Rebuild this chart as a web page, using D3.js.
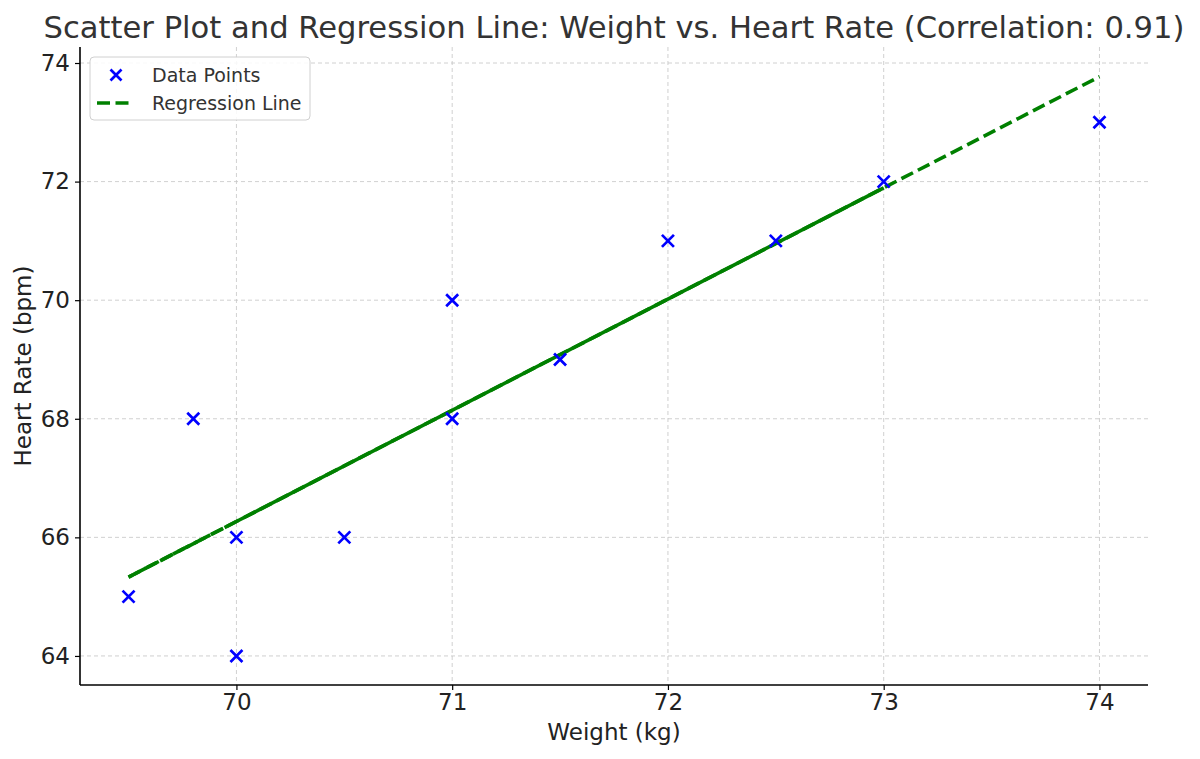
<!DOCTYPE html>
<html>
<head>
<meta charset="utf-8">
<script src="https://cdn.jsdelivr.net/npm/d3@7"></script>
<style>
  html, body { margin: 0; padding: 0; background: #fff; }
  svg { display: block; font-family: "DejaVu Sans", sans-serif; }
</style>
</head>
<body>
<svg id="chart" width="1200" height="759"></svg>
<script>
const weights = [69.5, 69.8, 70, 70, 70.5, 71, 71, 71.5, 72, 72.5, 73, 74];
const heartRates = [65, 68, 66, 64, 66, 68, 70, 69, 71, 71, 72, 73];
const regX = [69.5, 74];
const regY = [65.33, 73.77];
const regSolidX = [70, 73];
const xTicks = [70, 71, 72, 73, 74];
const yTicks = [64, 66, 68, 70, 72, 74];
const titleText = "Scatter Plot and Regression Line: Weight vs. Heart Rate (Correlation: 0.91)";
const xLabel = "Weight (kg)";
const yLabel = "Heart Rate (bpm)";
const legendLabels = ["Data Points", "Regression Line"];

const svg = d3.select("#chart");
const L = 80, R = 1148, T = 47, B = 685;
const x = d3.scaleLinear().domain([69.275, 74.225]).range([L, R]);
const y = d3.scaleLinear().domain([63.51, 74.27]).range([B, T]);
const regAt = v => regY[0] + (v - regX[0]) * (regY[1] - regY[0]) / (regX[1] - regX[0]);

// grid
const grid = svg.append("g");
grid.selectAll("line.gx").data(xTicks).join("line")
  .attr("x1", d => x(d)).attr("x2", d => x(d)).attr("y1", T).attr("y2", B)
  .attr("stroke", "#c4c4c4").attr("stroke-width", 0.8).attr("stroke-dasharray", "4,3");
grid.selectAll("line.gy").data(yTicks).join("line")
  .attr("x1", L).attr("x2", R).attr("y1", d => y(d)).attr("y2", d => y(d))
  .attr("stroke", "#c4c4c4").attr("stroke-width", 0.8).attr("stroke-dasharray", "4,3");

// axes
const xAxis = svg.append("g").attr("transform", `translate(0,${B})`)
  .call(d3.axisBottom(x).tickValues(xTicks).tickFormat(d3.format("d")).tickSize(5).tickPadding(4).tickSizeOuter(0));
const yAxis = svg.append("g").attr("transform", `translate(${L},0)`)
  .call(d3.axisLeft(y).tickValues(yTicks).tickFormat(d3.format("d")).tickSize(5).tickPadding(5).tickSizeOuter(0));
[xAxis, yAxis].forEach(a => {
  a.select(".domain").attr("stroke", "#000").attr("stroke-width", 1.6);
  a.selectAll(".tick line").attr("stroke", "#000").attr("stroke-width", 1.2);
  a.selectAll(".tick text").attr("font-size", 23).attr("fill", "#222").attr("font-family", "DejaVu Sans");
});
xAxis.select(".domain").attr("d", `M${L},0H${R}`);
yAxis.select(".domain").attr("d", `M0,${B}V${T}`);

// regression line
const line = d3.line().x(d => x(d[0])).y(d => y(d[1]));
const regPts = regX.map(v => [v, regAt(v)]);
svg.append("path").attr("d", line(regPts)).attr("fill", "none")
  .attr("stroke", "#008000").attr("stroke-width", 3.6).attr("stroke-dasharray", "13,5.5");
svg.append("path").attr("d", line([[regX[0], regAt(regX[0])], [regSolidX[0], regAt(regSolidX[0])]])).attr("fill", "none")
  .attr("stroke", "#008000").attr("stroke-width", 3.6).attr("stroke-dasharray", "13,1.5").attr("stroke-dashoffset", 8);
svg.append("path").attr("d", line(regSolidX.map(v => [v, regAt(v)]))).attr("fill", "none")
  .attr("stroke", "#008000").attr("stroke-width", 3.6);

// scatter x markers
const s = 6;
svg.append("g").selectAll("path").data(weights.map((w, i) => [w, heartRates[i]])).join("path")
  .attr("d", d => { const cx = x(d[0]), cy = y(d[1]);
    return `M${cx - s},${cy - s}L${cx + s},${cy + s}M${cx - s},${cy + s}L${cx + s},${cy - s}`; })
  .attr("stroke", "#0000ff").attr("stroke-width", 2.7).attr("fill", "none");

// title and labels
svg.append("text").attr("x", (L + R) / 2).attr("y", 38).attr("text-anchor", "middle")
  .attr("font-size", 30.6).attr("fill", "#333").text(titleText);
svg.append("text").attr("x", (L + R) / 2).attr("y", 740).attr("text-anchor", "middle")
  .attr("font-size", 23).attr("fill", "#222").text(xLabel);
svg.append("text").attr("transform", `translate(31,${(T + B) / 2}) rotate(-90)`).attr("text-anchor", "middle")
  .attr("font-size", 23).attr("fill", "#222").text(yLabel);

// legend
const lg = svg.append("g");
lg.append("rect").attr("x", 90).attr("y", 57).attr("width", 220).attr("height", 63).attr("rx", 4)
  .attr("fill", "#fff").attr("fill-opacity", 0.85).attr("stroke", "#d0d0d0").attr("stroke-width", 1);
const lx = 116, ly1 = 75, ly2 = 103;
lg.append("path").attr("d", `M${lx - 5.5},${ly1 - 5.5}L${lx + 5.5},${ly1 + 5.5}M${lx - 5.5},${ly1 + 5.5}L${lx + 5.5},${ly1 - 5.5}`)
  .attr("stroke", "#0000ff").attr("stroke-width", 2.7);
lg.append("line").attr("x1", 97).attr("x2", 134).attr("y1", ly2).attr("y2", ly2)
  .attr("stroke", "#008000").attr("stroke-width", 3.6).attr("stroke-dasharray", "13,5.5");
lg.selectAll("text").data(legendLabels).join("text")
  .attr("x", 152).attr("y", (d, i) => i === 0 ? ly1 : ly2).attr("dy", "0.35em")
  .attr("font-size", 19).attr("fill", "#333").text(d => d);
</script>
</body>
</html>
